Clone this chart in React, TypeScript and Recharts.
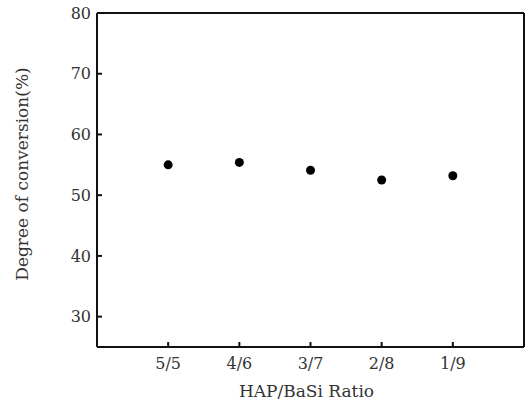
import React from 'react';
import { ScatterChart, Scatter, XAxis, YAxis, ReferenceLine, Label } from 'recharts';

const categories = ['5/5', '4/6', '3/7', '2/8', '1/9'];
const conversion = [55.0, 55.4, 54.1, 52.5, 53.2];
const yTicks = [30, 40, 50, 60, 70, 80];
const xTicks = [1, 2, 3, 4, 5];

const data = categories.map((c, i) => ({ x: i + 1, y: conversion[i], name: c }));

const FONT = '"DejaVu Serif", serif';
const TEXT_COLOR = '#333';
const AXIS_COLOR = '#111';

const YTick = (props: any) => {
  const { x, y, payload } = props;
  return (
    <g>
      <line x1={x + 6} x2={x + 11} y1={y} y2={y} stroke={AXIS_COLOR} strokeWidth={2} />
      <text x={x} y={y} dy="0.36em" textAnchor="end" fontFamily={FONT} fontSize={16} fill={TEXT_COLOR}>
        {payload.value}
      </text>
    </g>
  );
};

const XTick = (props: any) => {
  const { x, y, payload } = props;
  const idx = Math.round(payload.value) - 1;
  return (
    <g>
      <line x1={x} x2={x} y1={y - 10} y2={y - 15} stroke={AXIS_COLOR} strokeWidth={2} />
      <text x={x} y={y + 12} textAnchor="middle" fontFamily={FONT} fontSize={16} fill={TEXT_COLOR}>
        {categories[idx] ?? ''}
      </text>
    </g>
  );
};

const XLabel = (props: any) => {
  const vb = props.viewBox || {};
  return (
    <text x={vb.x + vb.width / 2 - 4} y={vb.y + 50} textAnchor="middle" fontFamily={FONT} fontSize={17} fill={TEXT_COLOR}>
      HAP/BaSi Ratio
    </text>
  );
};

const YLabel = (props: any) => {
  const vb = props.viewBox || {};
  const cx = 28;
  const cy = vb.y + vb.height / 2 - 6;
  return (
    <text x={cx} y={cy} transform={`rotate(-90, ${cx}, ${cy})`} textAnchor="middle" fontFamily={FONT} fontSize={17} fill={TEXT_COLOR}>
      Degree of conversion(%)
    </text>
  );
};

const Dot = (props: any) => <circle cx={props.cx} cy={props.cy} r={4.5} fill="#000" />;

export default function App() {
  return (
    <div style={{ position: 'absolute', left: 0, top: 0, background: '#fff' }}>
      <ScatterChart width={526} height={404} margin={{ top: 13, right: 2, bottom: 0, left: 0 }}>
        <XAxis
          dataKey="x"
          type="number"
          domain={[0, 6]}
          ticks={xTicks}
          height={57}
          tickSize={0}
          tickMargin={10}
          tickLine={false}
          axisLine={{ stroke: AXIS_COLOR, strokeWidth: 2 }}
          tick={<XTick />}
          interval={0}
        >
          <Label content={<XLabel />} />
        </XAxis>
        <YAxis
          dataKey="y"
          type="number"
          domain={[25, 80]}
          ticks={yTicks}
          width={97}
          tickSize={0}
          tickMargin={6}
          tickLine={false}
          axisLine={{ stroke: AXIS_COLOR, strokeWidth: 2 }}
          tick={<YTick />}
          interval={0}
        >
          <Label content={<YLabel />} />
        </YAxis>
        <ReferenceLine y={80} stroke={AXIS_COLOR} strokeWidth={2} />
        <ReferenceLine x={6} stroke={AXIS_COLOR} strokeWidth={2} />
        <Scatter data={data} shape={<Dot />} isAnimationActive={false} />
      </ScatterChart>
    </div>
  );
}
